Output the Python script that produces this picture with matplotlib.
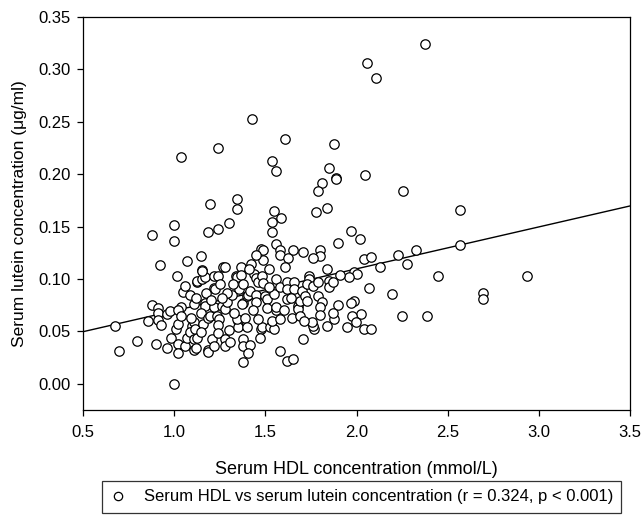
import matplotlib
matplotlib.use("Agg")
import matplotlib.pyplot as plt
from matplotlib.lines import Line2D
import numpy as np

plt.rcParams['font.family'] = ['Liberation Sans', 'DejaVu Sans']

hdl = [2.376, 2.059, 2.108, 1.427, 1.608, 1.876, 1.239, 1.039, 1.539, 1.557,
       1.849, 1.888, 1.888, 2.047, 1.810, 1.788, 2.257, 1.347, 1.347, 1.198,
       1.547, 1.588, 1.539, 1.539, 1.776, 1.837, 2.567, 0.998, 0.998, 0.878,
       1.188, 1.239, 1.298, 1.969, 2.020, 1.898, 2.567, 1.557, 1.578, 1.578,
       1.649, 1.627, 1.708, 1.800, 1.800, 1.759, 1.475, 1.488, 1.488, 1.447,
       1.147, 1.069, 0.920, 1.018, 1.422, 1.369, 1.151, 1.269, 1.278, 1.608,
       1.837, 2.039, 2.078, 2.227, 2.325, 2.278, 2.127, 2.445, 2.937, 2.696,
       2.696, 2.196, 2.069, 2.247, 2.388, 1.988, 2.004, 1.959, 1.910, 1.988,
       1.969, 2.027, 1.978, 1.998, 1.878, 1.898, 1.869, 1.949, 2.039, 2.078,
       1.837, 1.767, 1.759, 1.708, 1.755, 1.578, 1.618, 1.649, 1.378, 0.998,
       0.678, 0.700, 0.798, 0.857, 0.878, 0.910, 0.910, 0.910, 0.929, 0.898,
       0.959, 0.959, 0.978, 0.980, 1.020, 1.020, 1.010, 1.020, 1.039, 1.020,
       1.039, 1.059, 1.069, 1.049, 1.059, 1.088, 1.108, 1.118, 1.098, 1.088,
       1.108, 1.112, 1.108, 1.127, 1.108, 1.118, 1.127, 1.127, 1.151, 1.167,
       1.151, 1.176, 1.167, 1.171, 1.147, 1.157, 1.147, 1.186, 1.196, 1.186,
       1.188, 1.206, 1.220, 1.218, 1.218, 1.225, 1.218, 1.239, 1.237, 1.245,
       1.239, 1.239, 1.263, 1.278, 1.278, 1.278, 1.288, 1.298, 1.318, 1.308,
       1.337, 1.342, 1.369, 1.357, 1.378, 1.378, 1.370, 1.349, 1.349, 1.345,
       1.388, 1.398, 1.378, 1.378, 1.418, 1.406, 1.398, 1.406, 1.418, 1.437,
       1.447, 1.459, 1.484, 1.488, 1.447, 1.447, 1.500, 1.508, 1.508, 1.475,
       1.484, 1.469, 1.523, 1.547, 1.539, 1.557, 1.557, 1.559, 1.549, 1.578,
       1.578, 1.618, 1.618, 1.618, 1.657, 1.657, 1.647, 1.677, 1.677, 1.688,
       1.688, 1.700, 1.710, 1.720, 1.727, 1.739, 1.739, 1.727, 1.759, 1.788,
       1.788, 1.810, 1.800, 1.800, 1.849, 1.849, 1.869,
       1.290, 1.320, 1.260, 1.430, 1.460, 1.520, 1.600, 1.640, 1.200, 1.090,
       1.250, 1.330, 1.410, 1.520]

lutein = [0.324, 0.306, 0.292, 0.253, 0.234, 0.229, 0.225, 0.216, 0.213, 0.203,
          0.206, 0.196, 0.195, 0.199, 0.192, 0.184, 0.184, 0.176, 0.167, 0.172,
          0.165, 0.158, 0.154, 0.145, 0.164, 0.168, 0.166, 0.152, 0.136, 0.142,
          0.145, 0.148, 0.153, 0.146, 0.138, 0.134, 0.132, 0.133, 0.128, 0.123,
          0.128, 0.120, 0.126, 0.128, 0.122, 0.120, 0.129, 0.128, 0.118, 0.123,
          0.122, 0.117, 0.113, 0.103, 0.114, 0.111, 0.109, 0.111, 0.111, 0.111,
          0.110, 0.119, 0.121, 0.123, 0.128, 0.114, 0.111, 0.103, 0.103, 0.087,
          0.081, 0.086, 0.091, 0.065, 0.065, 0.107, 0.105, 0.102, 0.104, 0.079,
          0.077, 0.067, 0.065, 0.059, 0.062, 0.075, 0.068, 0.054, 0.052, 0.052,
          0.055, 0.052, 0.055, 0.043, 0.059, 0.031, 0.022, 0.024, 0.021, 0.000,
          0.055, 0.031, 0.041, 0.060, 0.075, 0.072, 0.068, 0.061, 0.056, 0.038,
          0.034, 0.067, 0.069, 0.044, 0.038, 0.029, 0.052, 0.057, 0.073, 0.070,
          0.065, 0.036, 0.044, 0.088, 0.093, 0.085, 0.076, 0.082, 0.055, 0.049,
          0.059, 0.052, 0.043, 0.044, 0.032, 0.034, 0.097, 0.098, 0.100, 0.102,
          0.108, 0.087, 0.077, 0.074, 0.068, 0.057, 0.049, 0.063, 0.065, 0.032,
          0.030, 0.043, 0.036, 0.073, 0.091, 0.090, 0.103, 0.103, 0.065, 0.062,
          0.056, 0.048, 0.074, 0.071, 0.043, 0.036, 0.078, 0.051, 0.085, 0.040,
          0.103, 0.102, 0.104, 0.090, 0.095, 0.077, 0.076, 0.060, 0.054, 0.062,
          0.063, 0.054, 0.043, 0.036, 0.037, 0.029, 0.084, 0.085, 0.089, 0.105,
          0.101, 0.097, 0.103, 0.096, 0.085, 0.078, 0.084, 0.081, 0.072, 0.052,
          0.054, 0.044, 0.054, 0.052, 0.060, 0.070, 0.073, 0.100, 0.086, 0.062,
          0.092, 0.097, 0.090, 0.081, 0.097, 0.090, 0.063, 0.074, 0.071, 0.079,
          0.065, 0.089, 0.060, 0.084, 0.079, 0.103, 0.100, 0.095, 0.093, 0.097,
          0.084, 0.078, 0.073, 0.066, 0.098, 0.092, 0.097,
          0.087, 0.095, 0.082, 0.070, 0.062, 0.092, 0.070, 0.082, 0.080, 0.063,
          0.095, 0.068, 0.110, 0.110]

fit_intercept = 0.0297
fit_slope = 0.0400
fit_x = [0.5, 3.5]

x_ticks = [0.5, 1.0, 1.5, 2.0, 2.5, 3.0, 3.5]
y_ticks = [0.00, 0.05, 0.10, 0.15, 0.20, 0.25, 0.30, 0.35]
legend_label = "Serum HDL vs serum lutein concentration (r = 0.324, p < 0.001)"

fig = plt.figure(figsize=(6.41, 5.17), dpi=100)
ax = fig.add_axes([83/641, 1 - 410/517, (630 - 83)/641, (410 - 17)/517])

ax.scatter(hdl, lutein, s=46, facecolors='white', edgecolors='black',
           linewidths=0.9, zorder=3)
fx = np.array(fit_x)
ax.plot(fx, fit_intercept + fit_slope * fx, color='black', lw=1.0, zorder=2)

ax.set_xlim(0.5, 3.5)
ax.set_ylim(-0.025, 0.35)
ax.set_xticks(x_ticks)
ax.set_xticklabels([f"{t:.1f}" for t in x_ticks])
ax.set_yticks(y_ticks)
ax.set_yticklabels([f"{t:.2f}" for t in y_ticks])
ax.tick_params(direction='out', length=4, width=0.9, labelsize=12,
               colors='black', top=False, right=False)
ax.tick_params(axis='x', pad=7)
ax.tick_params(axis='y', pad=5)
for sp in ax.spines.values():
    sp.set_linewidth(0.9)

ax.set_xlabel("Serum HDL concentration (mmol/L)", fontsize=13, labelpad=15)
ax.set_ylabel("Serum lutein concentration (\u03bcg/ml)", fontsize=12.5, labelpad=8)

handle = Line2D([], [], linestyle='none', marker='o', markersize=6,
                markerfacecolor='white', markeredgecolor='black',
                markeredgewidth=0.9)
leg = fig.legend([handle], [legend_label], loc='upper left',
                 bbox_to_anchor=(102/641, 1 - 481/517), fontsize=12,
                 frameon=True, fancybox=False, edgecolor='black',
                 borderpad=0.5, handlelength=0.9, handletextpad=1.1,
                 borderaxespad=0)
leg.get_frame().set_linewidth(0.9)

fig.savefig("out.png", dpi=100)
